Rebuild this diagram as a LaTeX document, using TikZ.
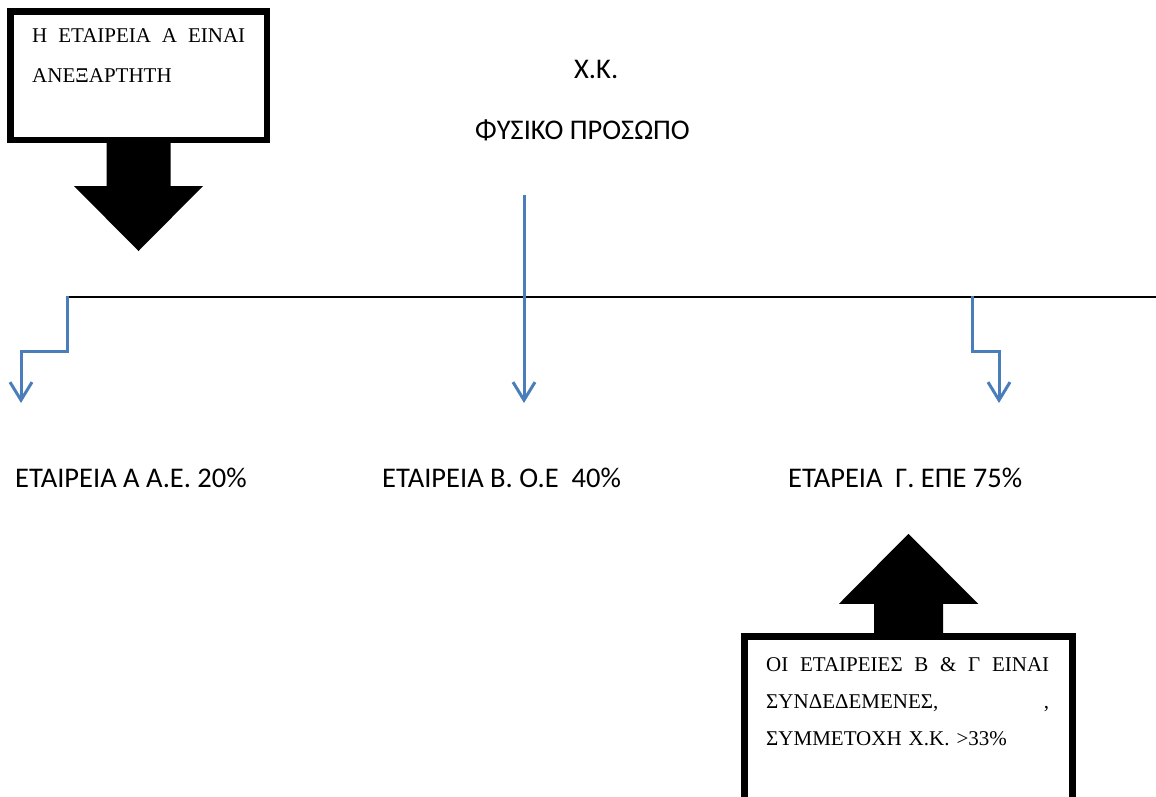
\documentclass[tikz,border=0pt]{standalone}
\usepackage{fontspec}
\setmainfont{Carlito}
\newfontfamily\notefont{Liberation Serif}
\usepackage{xcolor}
\usepackage{tikz}
\usetikzlibrary{arrows.meta}
\definecolor{wordblue}{HTML}{4A7EBB}

\begin{document}
\begin{tikzpicture}[
    x=1pt, y=-1pt,
    nametext/.style={anchor=base west, inner sep=0pt, font=\fontsize{28.5}{34}\selectfont},
    notebox/.style={draw, line width=6.5pt, inner sep=0pt},
    notetext/.style={anchor=base west, inner sep=0pt, align=left, font=\notefont\fontsize{21}{37}\selectfont},
    blockarr/.style={fill=black},
    hline/.style={line width=2.4pt},
    arr/.style={draw=wordblue, line width=3pt, -{Straight Barb[length=18pt, width=22pt]}},
]
\clip (0,0) rectangle (1156,796);

\node[notebox, minimum width=256.5pt, minimum height=128.5pt] (notea) at (138.5,75.5) {};
\node[notetext, text width=213pt, font=\notefont\fontsize{21}{39.5}\selectfont] (texta) at (32,42.5) {Η\hfill ΕΤΑΙΡΕΙΑ\hfill Α\hfill ΕΙΝΑΙ\\ΑΝΕΞΑΡΤΗΤΗ};
\fill[blockarr] (notea.south west) ++(0,-5) rectangle (notea.south east);
\fill[blockarr, shift={(notea.south)}] (-32,-2) -- (32,-2) -- (32,43) -- (64.5,43) -- (0,108) -- (-64.5,43) -- (-32,43) -- cycle;

\node[nametext] (xk) at (574,78) {Χ.Κ.};
\node[nametext] (person) at (475,139) {ΦΥΣΙΚΟ ΠΡΟΣΩΠΟ};

\coordinate (lineL) at (67,297);
\coordinate (lineR) at (1156,297);
\draw[hline] (lineL) -- (lineR);

\coordinate (ja) at (67,296);
\coordinate (ea) at (21,403);
\coordinate (jb) at (524,195);
\coordinate (eb) at (524,403);
\coordinate (jc) at (972,296);
\coordinate (ec) at (999,403);
\draw[arr] (ja) -- ++(0,55) -| (ea);
\draw[arr] (jb) -- (eb);
\draw[arr] (jc) -- ++(0,55) -| (ec);

\node[nametext] (compA) at (15,487) {ΕΤΑΙΡΕΙΑ Α Α.Ε. 20\%};
\node[nametext] (compB) at (382,487) {ΕΤΑΙΡΕΙΑ Β. Ο.Ε\ \ 40\%};
\node[nametext] (compC) at (788,487) {ΕΤΑΡΕΙΑ\ \ Γ. ΕΠΕ 75\%};

\node[notebox, minimum width=328pt, minimum height=165.5pt] (notebc) at (908.5,719.25) {};
\node[notetext, text width=283pt] (textbc) at (766,671) {ΟΙ\hfill ΕΤΑΙΡΕΙΕΣ\hfill Β\hfill \&\hfill Γ\hfill ΕΙΝΑΙ\\ΣΥΝΔΕΔΕΜΕΝΕΣ,\hfill ,\\ΣΥΜΜΕΤΟΧΗ Χ.Κ. >33\%};
\fill[blockarr, shift={(notebc.north)}] (-34.5,2) -- (34.5,2) -- (34.5,-29.5) -- (69.5,-29.5) -- (0,-99.5) -- (-69.5,-29.5) -- (-34.5,-29.5) -- cycle;
\end{tikzpicture}
\end{document}
